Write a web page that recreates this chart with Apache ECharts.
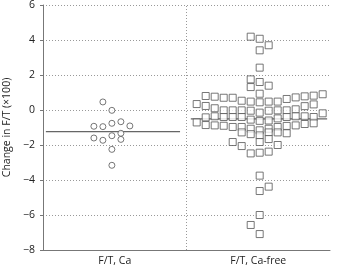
<!DOCTYPE html>
<html>
<head>
<meta charset="utf-8">
<script src="https://cdn.jsdelivr.net/npm/echarts@6/dist/echarts.min.js"></script>
<style>
  html, body { margin: 0; padding: 0; background: #fff; }
  #chart { width: 339px; height: 267px; }
</style>
</head>
<body>
<div id="chart"></div>
<script>
// groups on the x axis
var categories = ['F/T, Ca', 'F/T, Ca-free']
var yTicks = [-8, -6, -4, -2, 0, 2, 4, 6]

// [column offset in the swarm, change in F/T x100]
var caPoints = [
  [-1, 0.46], [0, -0.02], [-2, -0.93], [-1, -0.95], [0, -0.76], [1, -0.67],
  [2, -0.91], [1, -1.33], [0, -1.47], [-2, -1.6], [-1, -1.73], [1, -1.68],
  [0, -2.25], [0, -3.16]
]
var caFreePoints = [
  [-1, 4.19], [0, 4.07], [1, 3.7], [0, 3.41], [0, 2.42], [-1, 1.75], [0, 1.6],
  [-1, 1.31], [1, 1.39], [0, 0.93],
  [-6, 0.8], [-5, 0.76], [-4, 0.7], [-3, 0.7], [-2, 0.53], [-1, 0.48], [0, 0.44],
  [1, 0.48], [2, 0.48], [3, 0.63], [4, 0.72], [5, 0.78], [6, 0.82], [7, 0.9],
  [-7, 0.34], [-6, 0.23], [-5, 0.1], [-4, -0.02], [-3, -0.02], [-2, -0.02],
  [-1, -0.04], [0, -0.15], [1, -0.04], [2, -0.02], [3, -0.02], [4, 0.04],
  [5, 0.22], [6, 0.32], [7, -0.19],
  [-7, -0.71], [-6, -0.42], [-5, -0.36], [-4, -0.4], [-3, -0.4], [-2, -0.4],
  [-1, -0.55], [0, -0.62], [1, -0.6], [2, -0.48], [3, -0.4], [4, -0.36],
  [5, -0.36], [6, -0.4],
  [-6, -0.86], [-5, -0.88], [-4, -0.9], [-3, -0.97], [-2, -0.97], [-1, -1.07],
  [0, -1.16], [1, -1.07], [2, -0.97], [3, -0.91], [4, -0.88], [5, -0.8], [6, -0.76],
  [-2, -1.28], [-1, -1.38], [0, -1.45], [1, -1.28], [2, -1.28], [3, -1.33],
  [-3, -1.83], [-2, -2.06], [0, -1.83], [1, -1.66], [2, -2.0],
  [-1, -2.48], [0, -2.44], [1, -2.38],
  [0, -3.75], [0, -4.63], [1, -4.38], [0, -6.0], [-1, -6.57], [0, -7.09]
]
var caMean = -1.24
var caFreeMean = -0.51

var centers = [0.48, 1.51]
var colStep = 0.0627
var font = '"Open Sans", "Noto Sans", sans-serif'
var ink = '#555'

function place(points, c) {
  return points.map(function (p) { return [c + p[0] * colStep, p[1]] })
}

var chart = echarts.init(document.getElementById('chart'), null, { renderer: 'canvas' })
chart.setOption({
  animation: false,
  grid: { left: 43, right: 9, top: 5, bottom: 17, outerBoundsMode: 'none', containLabel: false },
  xAxis: {
    type: 'value', min: 0, max: 2, interval: 0.5,
    axisLine: { onZero: false, lineStyle: { color: '#777', width: 1 } },
    axisTick: { show: false },
    splitLine: { show: false },
    axisLabel: {
      margin: 6, fontSize: 10.5, color: '#222', fontFamily: font,
      formatter: function (v) {
        if (Math.abs(v - 0.5) < 1e-6) return categories[0]
        if (Math.abs(v - 1.5) < 1e-6) return categories[1]
        return ''
      }
    }
  },
  yAxis: {
    type: 'value', min: yTicks[0], max: yTicks[yTicks.length - 1], interval: 2,
    name: 'Change in F/T (\u00d7100)', nameLocation: 'middle', nameGap: 27,
    nameTextStyle: { fontSize: 10.5, color: '#222', fontFamily: font },
    axisLine: { show: true, onZero: false, lineStyle: { color: '#777', width: 1 } },
    axisTick: { show: true, length: 3, lineStyle: { color: '#777' } },
    splitLine: { show: true, lineStyle: { color: '#999', type: [1, 2], width: 1 } },
    axisLabel: {
      margin: 8, fontSize: 10.5, color: '#222', fontFamily: font,
      formatter: function (v) { return String(v).replace('-', '\u2212') }
    }
  },
  series: [
    {
      type: 'line', symbol: 'none', silent: true, z: 1,
      lineStyle: { color: '#666', width: 1.2 },
      data: [[0.02, caMean], [0.955, caMean]],
      markLine: {
        silent: true, symbol: 'none', label: { show: false },
        lineStyle: { color: '#999', type: [1, 2], width: 1 },
        data: [{ xAxis: 1 }]
      }
    },
    {
      type: 'line', symbol: 'none', silent: true, z: 1,
      lineStyle: { color: '#666', width: 1.2 },
      data: [[1.03, caFreeMean], [1.98, caFreeMean]]
    },
    {
      type: 'scatter', symbol: 'circle', symbolSize: 6, z: 3,
      itemStyle: { color: '#fff', borderColor: ink, borderWidth: 1 },
      data: place(caPoints, centers[0])
    },
    {
      type: 'scatter', symbol: 'rect', symbolSize: 7, z: 3,
      itemStyle: { color: '#fff', borderColor: ink, borderWidth: 1 },
      data: place(caFreePoints, centers[1])
    }
  ]
})
</script>
</body>
</html>
